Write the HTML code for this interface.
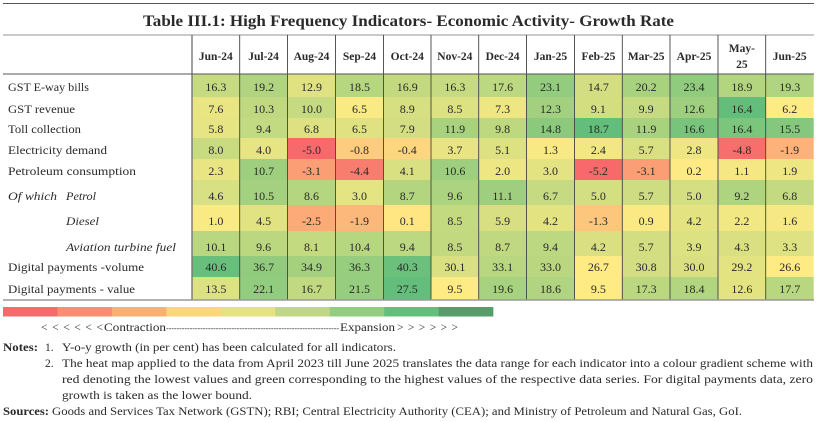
<!DOCTYPE html>
<html lang="en">
<head>
<meta charset="utf-8">
<title>Table III.1: High Frequency Indicators</title>
<style>
html,body{margin:0;padding:0;background:#fff;width:817px;height:422px;overflow:hidden}
svg{display:block;font-family:"Liberation Serif",serif;fill:#2a2a2a}
.lab{font-size:12px}
.it{font-size:12px;font-style:italic}
.note{font-size:11.5px}
.b{font-weight:bold}
</style>
</head>
<body>
<svg id="table" xmlns="http://www.w3.org/2000/svg" width="817" height="422" viewBox="0 0 817 422">
  <rect x="0" y="0" width="817" height="422" fill="#fff"/>
  <line x1="3" x2="814" y1="3.5" y2="3.5" stroke="#555" stroke-width="1"/>
  <text class="b" x="143" y="26" font-size="16" textLength="531" lengthAdjust="spacingAndGlyphs">Table III.1: High Frequency Indicators- Economic Activity- Growth Rate</text>
  <line x1="3" x2="814" y1="35" y2="35" stroke="#aaa" stroke-width="1.3"/>
  <g id="cells"></g>
  <g id="grid"></g>
  <line x1="3" x2="814" y1="74" y2="74" stroke="#555" stroke-width="1"/>
  <line x1="3" x2="814" y1="300" y2="300" stroke="#999" stroke-width="1.6"/>
  <g id="heads"></g>

  <g>
    <text class="lab" x="8" y="91" textLength="81" lengthAdjust="spacingAndGlyphs">GST E-way bills</text>
    <text class="lab" x="8" y="113" textLength="67" lengthAdjust="spacingAndGlyphs">GST revenue</text>
    <text class="lab" x="8" y="133" textLength="73" lengthAdjust="spacingAndGlyphs">Toll collection</text>
    <text class="lab" x="8" y="154" textLength="99" lengthAdjust="spacingAndGlyphs">Electricity demand</text>
    <text class="lab" x="8" y="175" textLength="128" lengthAdjust="spacingAndGlyphs">Petroleum consumption</text>
    <text class="it" x="8" y="200" textLength="49" lengthAdjust="spacingAndGlyphs">Of which</text>
    <text class="it" x="66" y="200" textLength="30" lengthAdjust="spacingAndGlyphs">Petrol</text>
    <text class="it" x="66" y="225" textLength="33" lengthAdjust="spacingAndGlyphs">Diesel</text>
    <text class="it" x="66" y="251" textLength="110" lengthAdjust="spacingAndGlyphs">Aviation turbine fuel</text>
    <text class="lab" x="8" y="271" textLength="136" lengthAdjust="spacingAndGlyphs">Digital payments -volume</text>
    <text class="lab" x="8" y="293" textLength="127" lengthAdjust="spacingAndGlyphs">Digital payments - value</text>
  </g>

  <g id="legend"></g>
  <g font-size="11.5">
    <text x="41" y="331" textLength="62" lengthAdjust="spacing">&lt;&lt;&lt;&lt;&lt;&lt;</text>
    <text x="104" y="331" textLength="62" lengthAdjust="spacingAndGlyphs">Contraction</text>
    <text x="166" y="331" font-size="8" textLength="173" lengthAdjust="spacing">------------------------------------------------------------------</text>
    <text x="340" y="331" textLength="55" lengthAdjust="spacingAndGlyphs">Expansion</text>
    <text x="397" y="331" textLength="61" lengthAdjust="spacing">&gt;&gt;&gt;&gt;&gt;&gt;</text>
  </g>

  <g>
    <text class="note b" x="3" y="351" textLength="35" lengthAdjust="spacingAndGlyphs">Notes:</text>
    <text class="note" x="45" y="351">1.</text>
    <text class="note" x="62" y="351" textLength="334" lengthAdjust="spacingAndGlyphs">Y-o-y growth (in per cent) has been calculated for all indicators.</text>
    <text class="note" x="45" y="367">2.</text>
    <text class="note" x="62" y="367" textLength="751" lengthAdjust="spacingAndGlyphs">The heat map applied to the data from April 2023 till June 2025 translates the data range for each indicator into a colour gradient scheme with</text>
    <text class="note" x="62" y="383" textLength="751" lengthAdjust="spacingAndGlyphs">red denoting the lowest values and green corresponding to the highest values of the respective data series. For digital payments data, zero</text>
    <text class="note" x="62" y="399" textLength="190" lengthAdjust="spacingAndGlyphs">growth is taken as the lower bound.</text>
    <text class="note b" x="3" y="415" textLength="46" lengthAdjust="spacingAndGlyphs">Sources:</text>
    <text class="note" x="52" y="415" textLength="690" lengthAdjust="spacingAndGlyphs">Goods and Services Tax Network (GSTN); RBI; Central Electricity Authority (CEA); and Ministry of Petroleum and Natural Gas, GoI.</text>
  </g>
</svg>
<script>
var months = ["Jun-24","Jul-24","Aug-24","Sep-24","Oct-24","Nov-24","Dec-24","Jan-25","Feb-25","Mar-25","Apr-25","May-25","Jun-25"];
var indicators = ["gst-eway","gst-revenue","toll","electricity","petroleum","petrol","diesel","atf","digital-volume","digital-value"];
var gstEway      = ["16.3","19.2","12.9","18.5","16.9","16.3","17.6","23.1","14.7","20.2","23.4","18.9","19.3"];
var gstRevenue   = ["7.6","10.3","10.0","6.5","8.9","8.5","7.3","12.3","9.1","9.9","12.6","16.4","6.2"];
var tollCollect  = ["5.8","9.4","6.8","6.5","7.9","11.9","9.8","14.8","18.7","11.9","16.6","16.4","15.5"];
var electricity  = ["8.0","4.0","-5.0","-0.8","-0.4","3.7","5.1","1.3","2.4","5.7","2.8","-4.8","-1.9"];
var petroleum    = ["2.3","10.7","-3.1","-4.4","4.1","10.6","2.0","3.0","-5.2","-3.1","0.2","1.1","1.9"];
var petrol       = ["4.6","10.5","8.6","3.0","8.7","9.6","11.1","6.7","5.0","5.7","5.0","9.2","6.8"];
var diesel       = ["1.0","4.5","-2.5","-1.9","0.1","8.5","5.9","4.2","-1.3","0.9","4.2","2.2","1.6"];
var aviation     = ["10.1","9.6","8.1","10.4","9.4","8.5","8.7","9.4","4.2","5.7","3.9","4.3","3.3"];
var digitalVol   = ["40.6","36.7","34.9","36.3","40.3","30.1","33.1","33.0","26.7","30.8","30.0","29.2","26.6"];
var digitalVal   = ["13.5","22.1","16.7","21.5","27.5","9.5","19.6","18.6","9.5","17.3","18.4","12.6","17.7"];
var series = [gstEway,gstRevenue,tollCollect,electricity,petroleum,petrol,diesel,aviation,digitalVol,digitalVal];
// estimated colour-scale domain of each indicator (Apr 2023 - Jun 2025 range)
var domainLow  = [-3,  0,  -3, -5, -5.2, -6, -5.3, -8, 20, 5];
var domainMid  = [8.7, 6.2, 3.5, 0.5, 0, 0, 0.3, -2.2, 26.6, 9.5];
var domainHigh = [29.5,16.4,18.7,22, 17, 18, 22, 25, 41, 27.5];
var legendColours = ["#f56b6d","#f98e70","#fbb073","#fdd57a","#e6e283","#c0d884","#92cd80","#64bf7c","#549e69"];

var NS = "http://www.w3.org/2000/svg";
var colEdges = [192,239.7,287.5,335.5,383.5,431,478.7,526.5,574.5,622.3,670,718,765.7,813.7];
var rowEdges = [74,97,118,138,159,180,205,231,256,277,300];
var rowBase = [91,113,133,154,175,200,225,251,271,293];
var RED=[248,105,107], YEL=[255,235,132], GRN=[99,190,123];

function mix(a,b,t){
  t=Math.max(0,Math.min(1,t));
  return "rgb("+a.map(function(v,i){return Math.round(v+(b[i]-v)*t);}).join(",")+")";
}
function heat(row,val){
  var mid=domainMid[row];
  if(val<mid) return mix(RED,YEL,(val-domainLow[row])/(mid-domainLow[row]));
  return mix(YEL,GRN,(val-mid)/(domainHigh[row]-mid));
}
function make(tag,parent,attrs){
  var el=document.createElementNS(NS,tag);
  for(var k in attrs) el.setAttribute(k,attrs[k]);
  parent.appendChild(el);
  return el;
}
var cellsG=document.getElementById("cells");
series.forEach(function(vals,r){
  vals.forEach(function(v,c){
    var x0=colEdges[c],x1=colEdges[c+1],y0=rowEdges[r],y1=rowEdges[r+1];
    var rect=make("rect",cellsG,{x:x0,y:y0,width:x1-x0,height:y1-y0,fill:heat(r,parseFloat(v))});
    
    
    var t=make("text",cellsG,{x:(x0+x1)/2,y:rowBase[r],"text-anchor":"middle","font-size":"12"});
    
    
    t.textContent=v;
  });
});
var gridG=document.getElementById("grid");
colEdges.forEach(function(x,i){
  if(i===colEdges.length-1) return;
  var l=make("line",gridG,{x1:x,x2:x,y1:35,y2:300,stroke:i===0?"#777":"#444","stroke-width":i===0?"1.4":"0.9"});
  
  
});
var headsG=document.getElementById("heads");
months.forEach(function(m,c){
  var cx=(colEdges[c]+colEdges[c+1])/2;
  var lines=m==="May-25"?["May-","25"]:[m];
  lines.forEach(function(s,i){
    var y=lines.length>1?(52+i*16):60;
    var t=make("text",headsG,{x:cx,y:y,"text-anchor":"middle","font-size":"11.5","font-weight":"bold"});
    
    
    t.textContent=s;
  });
});
var legendG=document.getElementById("legend");
var legendLeft=3, legendStep=54.45;
legendColours.forEach(function(col,i){
  var r=make("rect",legendG,{x:legendLeft+i*legendStep,y:307,width:legendStep+0.3,height:9.5,fill:col});
  
  
});
</script>
</body>
</html>
